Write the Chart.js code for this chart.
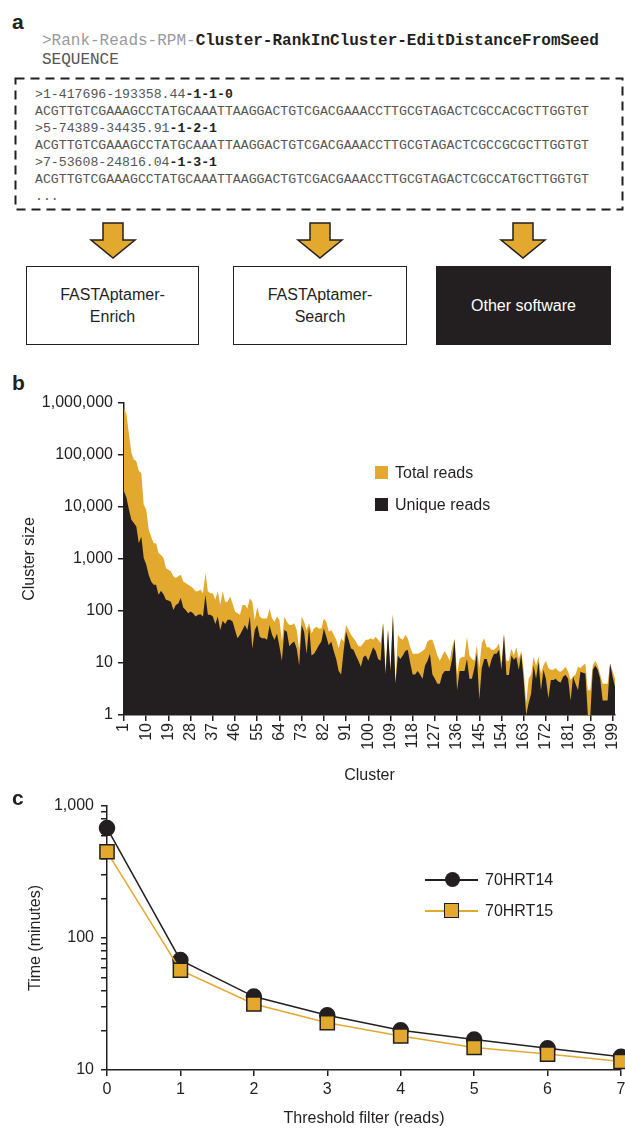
<!DOCTYPE html>
<html>
<head>
<meta charset="utf-8">
<script src="https://cdn.jsdelivr.net/npm/chart.js"></script>
<style>
body { margin: 0; width: 625px; height: 1130px; position: relative; background: #fff; overflow: hidden;
       font-family: "Liberation Sans", Arial, sans-serif; color: #231f20; }
.abs { position: absolute; }
.panel { font-weight: bold; font-size: 21px; line-height: 24px; }
.mono { font-family: "Liberation Mono", "Courier New", monospace; white-space: pre; }
.head { font-size: 16px; line-height: 19px; color: #9a9a9a; }
.head b, .seq b { color: #231f20; }
.seq { font-size: 13.2px; line-height: 17px; color: #555; }
.box { box-sizing: border-box; border: 1.5px solid #231f20; display: flex; align-items: center;
       justify-content: center; text-align: center; font-size: 16px; line-height: 22px; }
.leg { font-size: 16px; line-height: 18px; white-space: nowrap; }
</style>
</head>
<body>

<!-- panel a -->
<div class="abs panel" style="left:12px;top:10px">a</div>
<div class="abs mono head" style="left:42px;top:32px">&gt;Rank-Reads-RPM-<b>Cluster-RankInCluster-EditDistanceFromSeed</b></div>
<div class="abs mono head" style="left:42px;top:51px;color:#555">SEQUENCE</div>
<div class="abs mono seq" style="left:35px;top:86px">&gt;1-417696-193358.44<b>-1-1-0</b>
ACGTTGTCGAAAGCCTATGCAAATTAAGGACTGTCGACGAAACCTTGCGTAGACTCGCCACGCTTGGTGT
&gt;5-74389-34435.91<b>-1-2-1</b>
ACGTTGTCGAAAGCCTATGCAAATTAAGGACTGTCGACGAAACCTTGCGTAGACTCGCCGCGCTTGGTGT
&gt;7-53608-24816.04<b>-1-3-1</b>
ACGTTGTCGAAAGCCTATGCAAATTAAGGACTGTCGACGAAACCTTGCGTAGACTCGCCATGCTTGGTGT
...</div>
<svg class="abs" style="left:0;top:0" width="625" height="360">
  <rect x="15.5" y="78.5" width="607" height="131" fill="none" stroke="#231f20" stroke-width="2" stroke-dasharray="9 6"/>
  <g fill="#e3a82e" stroke="#231f20" stroke-width="1.5">
    <polygon points="103,223 123,223 123,240 135,240 113,258 91,240 103,240"/>
    <polygon points="310,223 330,223 330,240 342,240 320,258 298,240 310,240"/>
    <polygon points="513,223 533,223 533,240 545,240 523,258 501,240 513,240"/>
  </g>
</svg>
<div class="abs box" style="left:26px;top:266px;width:173px;height:79px">FASTAptamer-<br>Enrich</div>
<div class="abs box" style="left:233px;top:266px;width:174px;height:79px">FASTAptamer-<br>Search</div>
<div class="abs box" style="left:436px;top:266px;width:175px;height:79px;background:#231f20;color:#fff">Other software</div>

<!-- panel b -->
<div class="abs panel" style="left:12px;top:371px">b</div>
<canvas id="chartB" class="abs" style="left:0;top:370px" width="625" height="420"></canvas>
<div class="abs" style="left:375px;top:466px;width:13px;height:13px;background:#e3a82e"></div>
<div class="abs leg" style="left:395px;top:464px">Total reads</div>
<div class="abs" style="left:375px;top:498px;width:13px;height:13px;background:#231f20"></div>
<div class="abs leg" style="left:395px;top:496px">Unique reads</div>

<!-- panel c -->
<div class="abs panel" style="left:12px;top:786px">c</div>
<canvas id="chartC" class="abs" style="left:0;top:790px" width="625" height="340"></canvas>
<div class="abs" style="left:425px;top:879px;width:53px;height:1.5px;background:#231f20"></div>
<div class="abs" style="left:445px;top:872px;width:15px;height:15px;border-radius:50%;background:#231f20"></div>
<div class="abs leg" style="left:485px;top:871px">70HRT14</div>
<div class="abs" style="left:425px;top:910px;width:53px;height:1.5px;background:#e3a82e"></div>
<div class="abs" style="left:444px;top:903px;width:13px;height:13px;background:#e3a82e;border:1.5px solid #231f20"></div>
<div class="abs leg" style="left:485px;top:902px">70HRT15</div>

<script>
const ORANGE = '#e3a82e';
const INK = '#231f20';

// panel b: reads per cluster (clusters 1..200)
const clusters = Array.from({length: 200}, (_, i) => i + 1);
const clusterTicks = [1, 10, 19, 28, 37, 46, 55, 64, 73, 82, 91, 100, 109, 118, 127, 136, 145, 154, 163, 172, 181, 190, 199];
const sizeTicks = [1, 10, 100, 1000, 10000, 100000, 1000000];
const totalReads = [
  800000, 600000, 250000, 110000, 82000, 76000, 49000, 45000, 11000, 9000,
  3700, 2700, 2000, 2000, 1300, 1200, 1050, 670, 620, 580,
  465, 430, 465, 500, 370, 345, 320, 300, 275, 240,
  240, 260, 220, 540, 240, 220, 220, 165, 240, 130,
  240, 150, 150, 190, 140, 98, 91, 85, 130, 130,
  112, 175, 150, 67, 120, 78, 72, 72, 72, 112,
  72, 62, 78, 67, 26, 78, 62, 54, 54, 58,
  43, 18, 78, 62, 43, 58, 37, 46, 50, 46,
  46, 72, 62, 40, 43, 35, 28, 19, 30, 26,
  54, 43, 35, 30, 26, 21, 21, 24, 28, 28,
  30, 28, 32, 28, 24, 60, 7, 45, 7, 91,
  4, 35, 30, 28, 35, 30, 20, 15, 15, 15,
  16, 17, 19, 26, 28, 28, 20, 14, 11, 14,
  17, 14, 11, 20, 30, 6, 12, 13, 13, 32,
  14, 12, 11, 22, 8, 24, 30, 20, 20, 18,
  18, 20, 24, 10, 37, 11, 11, 19, 14, 20,
  12, 17, 7, 1.7, 5, 6, 13, 9, 13, 6.3,
  9, 11, 8, 7.4, 7.4, 8, 7, 6.8, 7.5, 8.5,
  6.8, 4.7, 5.5, 6, 8.5, 8, 9, 9.8, 3, 3,
  9, 11, 9, 6, 4, 4, 4, 9.8, 7, 5
];
const uniqueReads = [
  20000, 15000, 9000, 5700, 4900, 4200, 2000, 2700, 1050, 780,
  500, 370, 320, 320, 205, 245, 210, 165, 160, 150,
  105, 130, 140, 178, 117, 105, 91, 98, 91, 78,
  85, 87, 78, 205, 85, 85, 78, 56, 78, 43,
  65, 56, 68, 68, 63, 43, 30, 35, 43, 54,
  43, 78, 19, 43, 54, 32, 30, 30, 28, 54,
  35, 28, 37, 21, 11, 43, 40, 21, 24, 26,
  19, 9, 54, 40, 15, 50, 14, 15, 18, 22,
  26, 46, 32, 22, 26, 17, 12, 7, 6, 17,
  40, 28, 19, 18, 14, 11, 8.5, 13, 14, 11,
  15, 20, 17, 12, 11, 58, 6, 43, 7, 84,
  4, 14, 12, 14, 17, 18, 10, 6, 6, 7,
  6, 5, 9, 11, 15, 6, 5, 4, 4, 6,
  7, 7, 7, 12, 28, 3, 7, 7, 7, 12,
  5, 5, 8, 15, 2, 8, 12, 12, 7.9, 12,
  15, 15, 18, 7.4, 35, 5.9, 5.9, 14, 11.5, 13,
  7.4, 15, 4.7, 1, 1.7, 2.6, 9, 5, 10.7, 3,
  7.4, 5, 2.1, 4.7, 4.7, 5, 4.4, 4.2, 5.5, 5.9,
  5, 1.9, 5.5, 4, 3, 6.8, 6.5, 6.3, 1, 1,
  7.4, 9, 7.4, 5, 1.9, 1.9, 1.9, 9.8, 5.5, 3.5
];

// panel c: run time vs threshold
const thresholds = [0, 1, 2, 3, 4, 5, 6, 7];
const hrt14 = [680, 68, 36, 26, 20, 17, 14.6, 12.6];
const hrt15 = [450, 57, 31.6, 22.8, 18.1, 14.8, 13.2, 11.6];
const timeLabels = [10, 100, 1000];
const timeMinor = [20, 30, 40, 50, 60, 70, 80, 90, 200, 300, 400, 500, 600, 700, 800, 900];

Chart.defaults.font.family = '"Liberation Sans", Arial, sans-serif';
Chart.defaults.font.size = 16;
Chart.defaults.color = INK;

const fixTicks = list => axis => { axis.ticks = list.map(v => ({value: v})); };
// fixed axis box, and no extra room kept for the end tick labels
const fitX = h => s => { s.height = h; s.paddingLeft = 0; s.paddingRight = 0; };
const fitY = w => s => { s.width = w; s.paddingTop = 0; s.paddingBottom = 0; };

let chartB = new Chart(document.getElementById('chartB').getContext('2d'), {
    type: 'line',
    data: {
        datasets: [
            {
                label: 'Total reads',
                data: clusters.map((c, i) => ({x: c, y: totalReads[i]})),
                fill: 'start',
                backgroundColor: ORANGE,
                borderWidth: 0,
                pointRadius: 0,
                order: 2
            },
            {
                label: 'Unique reads',
                data: clusters.map((c, i) => ({x: c, y: uniqueReads[i]})),
                fill: 'start',
                backgroundColor: INK,
                borderWidth: 0,
                pointRadius: 0,
                order: 1
            }
        ]
    },
    options: {
        responsive: false,
        animation: false,
        layout: { autoPadding: false, padding: { left: 0, right: 10, top: 33, bottom: 0 } },
        plugins: { legend: { display: false }, tooltip: { enabled: false } },
        scales: {
            x: {
                type: 'linear', min: 1, max: 200,
                afterBuildTicks: fixTicks(clusterTicks),
                afterFit: fitX(75),
                ticks: { autoSkip: false, minRotation: 90, maxRotation: 90, padding: 2 },
                grid: { drawOnChartArea: false, tickLength: 6, color: INK, lineWidth: 1.5 },
                border: { color: INK, width: 1.5 },
                title: { display: true, text: 'Cluster', padding: { bottom: 5 } }
            },
            y: {
                type: 'logarithmic', min: 1, max: 1000000,
                afterBuildTicks: fixTicks(sizeTicks),
                afterFit: fitY(124),
                ticks: { callback: v => Number(v).toLocaleString('en-US'), padding: 5 },
                grid: { drawOnChartArea: false, tickLength: 6, color: INK, lineWidth: 1.5 },
                border: { color: INK, width: 1.5 },
                title: { display: true, text: 'Cluster size', padding: { top: 20 } }
            }
        }
    }
});

let chartC = new Chart(document.getElementById('chartC').getContext('2d'), {
    type: 'line',
    data: {
        datasets: [
            {
                label: '70HRT14',
                data: thresholds.map((t, i) => ({x: t, y: hrt14[i]})),
                borderColor: INK,
                borderWidth: 1.5,
                pointStyle: 'circle',
                pointRadius: 7.5,
                pointBackgroundColor: INK,
                pointBorderColor: INK,
                clip: false,
                order: 2
            },
            {
                label: '70HRT15',
                data: thresholds.map((t, i) => ({x: t, y: hrt15[i]})),
                borderColor: ORANGE,
                borderWidth: 1.5,
                pointStyle: 'rect',
                pointRadius: 10,
                pointBackgroundColor: ORANGE,
                pointBorderColor: INK,
                pointBorderWidth: 1.5,
                clip: false,
                order: 1
            }
        ]
    },
    options: {
        responsive: false,
        animation: false,
        layout: { autoPadding: false, padding: { left: 0, right: 4, top: 16, bottom: 0 } },
        plugins: { legend: { display: false }, tooltip: { enabled: false } },
        scales: {
            x: {
                type: 'linear', min: 0, max: 7,
                afterBuildTicks: fixTicks(thresholds),
                afterFit: fitX(60),
                ticks: { padding: 4, maxRotation: 0 },
                grid: { drawOnChartArea: false, tickLength: 6, color: INK, lineWidth: 1.5 },
                border: { color: INK, width: 1.5 },
                title: { display: true, text: 'Threshold filter (reads)', padding: { bottom: 2 } }
            },
            y: {
                type: 'logarithmic', min: 10, max: 1000,
                afterBuildTicks: fixTicks(timeLabels.concat(timeMinor).sort((a, b) => a - b)),
                afterFit: fitY(107),
                ticks: {
                    autoSkip: false,
                    callback: v => timeLabels.includes(v) ? v.toLocaleString('en-US') : '',
                    padding: 7
                },
                grid: { drawOnChartArea: false, tickLength: 6, color: INK, lineWidth: 1.5 },
                border: { color: INK, width: 1.5 },
                title: { display: true, text: 'Time (minutes)', padding: { top: 26 } }
            }
        }
    }
});
</script>
</body>
</html>
